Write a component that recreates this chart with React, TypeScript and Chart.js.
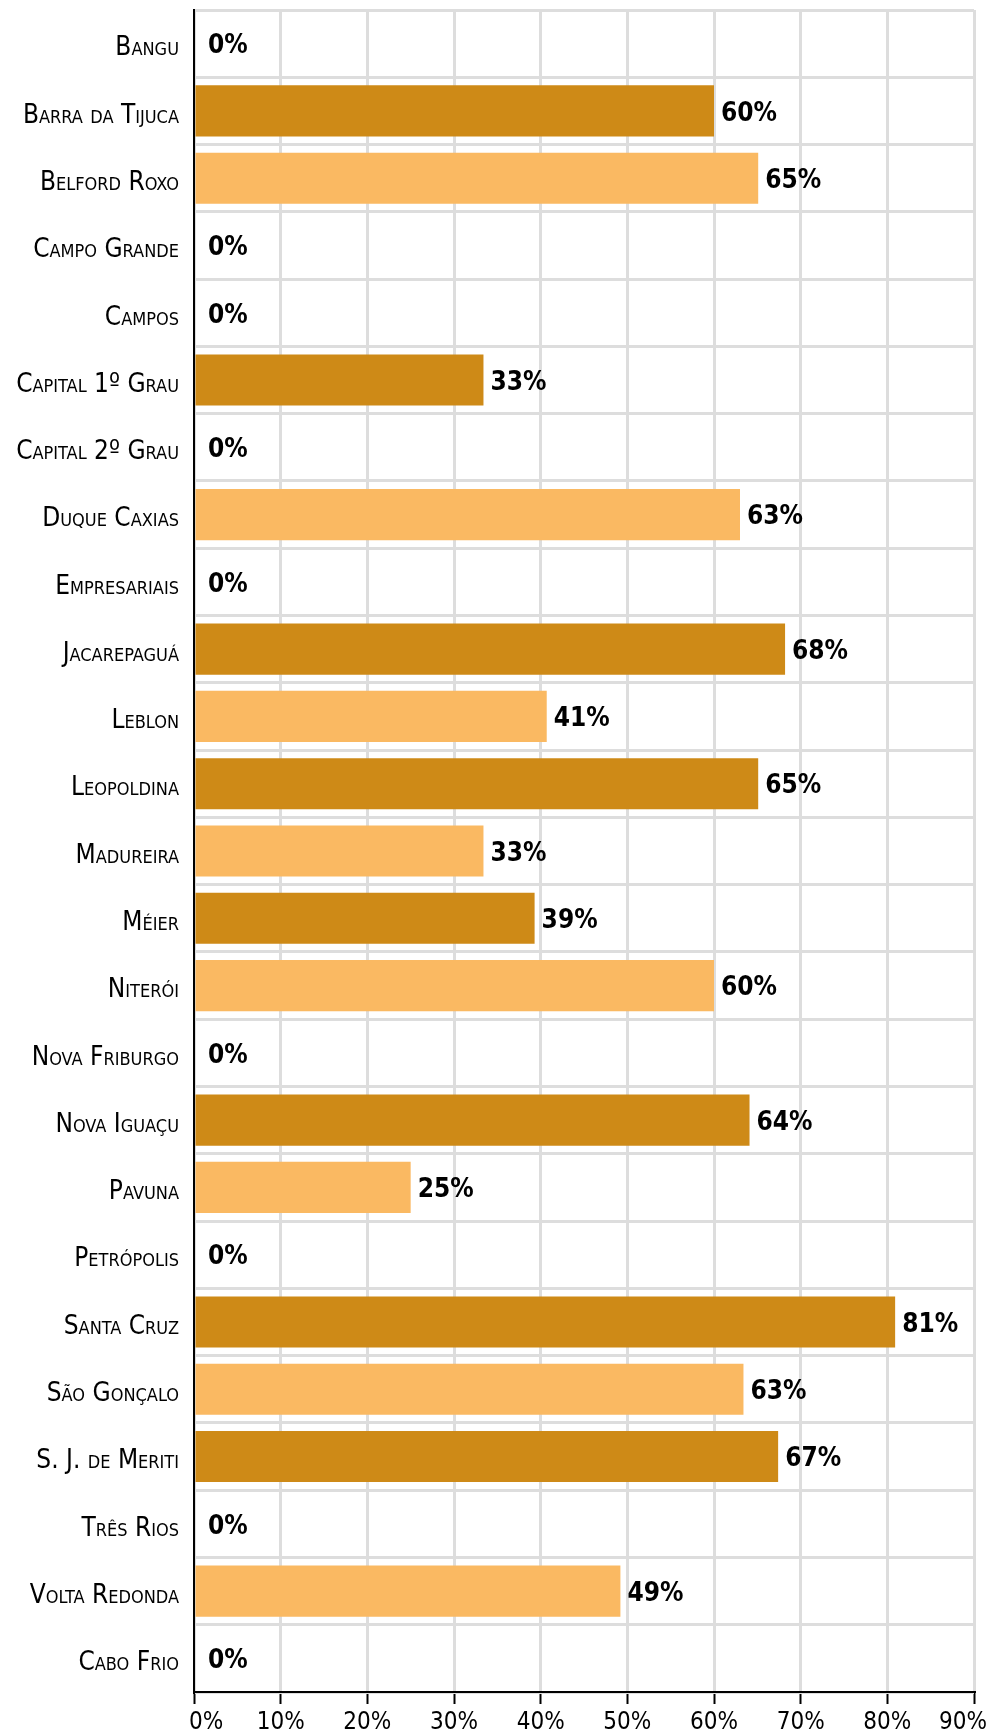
import React, { useEffect, useRef } from "react";
import { Chart, registerables } from "chart.js";

Chart.register(...registerables);

const categories = [
  "Bangu",
  "Barra da Tijuca",
  "Belford Roxo",
  "Campo Grande",
  "Campos",
  "Capital 1º Grau",
  "Capital 2º Grau",
  "Duque Caxias",
  "Empresariais",
  "Jacarepaguá",
  "Leblon",
  "Leopoldina",
  "Madureira",
  "Méier",
  "Niterói",
  "Nova Friburgo",
  "Nova Iguaçu",
  "Pavuna",
  "Petrópolis",
  "Santa Cruz",
  "São Gonçalo",
  "S. J. de Meriti",
  "Três Rios",
  "Volta Redonda",
  "Cabo Frio",
];

const values = [
  0, 60, 65.1, 0, 0, 33.4, 0, 63, 0, 68.2, 40.7, 65.1, 33.4, 39.3, 60, 0, 64.1,
  25, 0, 80.9, 63.4, 67.4, 0, 49.2, 0,
];

const xTickValues = [0, 10, 20, 30, 40, 50, 60, 70, 80, 90];

const DARK = "#CE8A17";
const LIGHT = "#FAB962";
const GRID = "#dddddd";

// Non-zero bars alternate dark / light in order of appearance
const barColors = (() => {
  let n = 0;
  return values.map((v) => {
    if (v === 0) return LIGHT;
    const c = n % 2 === 0 ? DARK : LIGHT;
    n++;
    return c;
  });
})();

const NARROW = "'Liberation Sans Narrow', 'DejaVu Sans Condensed', sans-serif";
const BOLD_COND = "'DejaVu Sans Condensed', 'Liberation Sans Narrow', sans-serif";

const valueLabelPlugin = {
  id: "valueLabels",
  afterDatasetsDraw(chart: any) {
    const ctx = chart.ctx;
    const meta = chart.getDatasetMeta(0);
    ctx.save();
    ctx.font = `bold 26px ${BOLD_COND}`;
    ctx.fillStyle = "#000";
    ctx.textAlign = "left";
    ctx.textBaseline = "middle";
    meta.data.forEach((bar: any, i: number) => {
      const v = values[i];
      const off = v === 0 ? 14 : 7;
      ctx.fillText(`${Math.round(v)}%`, bar.x + off, bar.y + 3);
    });
    ctx.restore();
  },
};

const xLabelPlugin = {
  id: "xLabels",
  afterDraw(chart: any) {
    const ctx = chart.ctx;
    const scale = chart.scales.x;
    const area = chart.chartArea;
    ctx.save();
    ctx.font = `24px ${NARROW}`;
    ctx.fillStyle = "#000";
    ctx.textAlign = "center";
    ctx.textBaseline = "middle";
    xTickValues.forEach((v) => {
      const text = `${v}%`;
      const w = ctx.measureText(text).width;
      let cx = scale.getPixelForValue(v);
      const minLeft = area.left - 5;
      const maxRight = chart.width - 10;
      if (cx - w / 2 < minLeft) cx = minLeft + w / 2;
      if (cx + w / 2 > maxRight) cx = maxRight - w / 2;
      ctx.fillText(text, cx, area.bottom + 31);
    });
    ctx.restore();
  },
};

export default function App() {
  const ref = useRef<HTMLCanvasElement | null>(null);

  useEffect(() => {
    if (!ref.current) return;
    const chart = new Chart(ref.current, {
      type: "bar",
      data: {
        labels: categories,
        datasets: [
          {
            data: values,
            backgroundColor: barColors,
            borderWidth: 0,
            barPercentage: 0.76,
            categoryPercentage: 1,
          },
        ],
      },
      options: {
        indexAxis: "y",
        responsive: false,
        animation: false,
        devicePixelRatio: 1,
        layout: { padding: { top: 10, right: 23, left: 0, bottom: 0 } },
        plugins: {
          legend: { display: false },
          tooltip: { enabled: false },
        },
        scales: {
          x: {
            type: "linear",
            min: 0,
            max: 90,
            ticks: { stepSize: 10, display: false },
            grid: {
              color: GRID,
              lineWidth: 3,
              drawTicks: true,
              tickLength: 12,
              tickColor: "#000",
              tickWidth: 2,
            },
            border: { display: true, color: "#000", width: 2 },
            afterFit: (scale: any) => {
              scale.height = 44;
            },
          },
          y: {
            type: "category",
            grid: {
              color: GRID,
              lineWidth: 3,
              offset: true,
              drawTicks: false,
            },
            border: { display: true, color: "#000", width: 2 },
            ticks: {
              color: "#000",
              padding: 15,
              labelOffset: 5,
              autoSkip: false,
              font: { family: NARROW, size: 26, weight: "small-caps" as any },
            },
            afterFit: (scale: any) => {
              scale.width = 194;
              scale.paddingTop = 0;
              scale.paddingBottom = 0;
            },
          },
        },
      },
      plugins: [valueLabelPlugin, xLabelPlugin],
    });
    return () => chart.destroy();
  }, []);

  return (
    <div style={{ position: "fixed", left: 0, top: 0, width: 997, height: 1736, background: "#fff" }}>
      <canvas ref={ref} width={997} height={1736} style={{ width: 997, height: 1736, display: "block" }} />
    </div>
  );
}
